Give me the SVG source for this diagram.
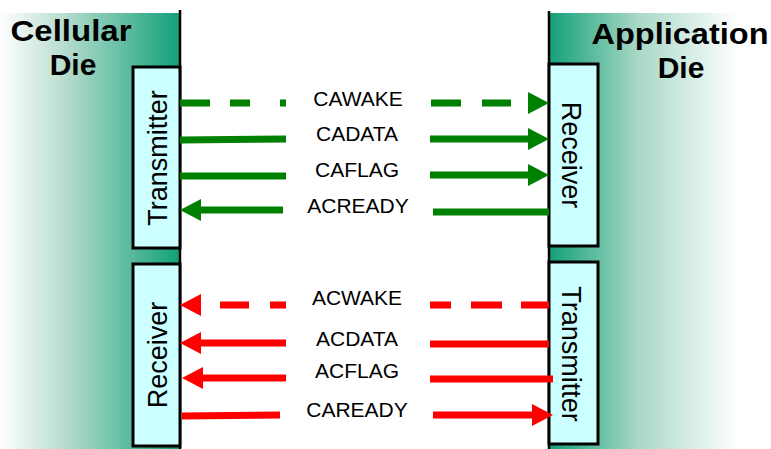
<svg xmlns="http://www.w3.org/2000/svg" width="771" height="449" viewBox="0 0 771 449">
<defs>
<linearGradient id="gl" x1="0" y1="0" x2="1" y2="0">
<stop offset="0" stop-color="#ffffff"/>
<stop offset="0.35" stop-color="#b9ddd0"/>
<stop offset="1" stop-color="#12a078"/>
</linearGradient>
<linearGradient id="gr" x1="0" y1="0" x2="1" y2="0">
<stop offset="0" stop-color="#12a078"/>
<stop offset="0.4" stop-color="#a8d8c6"/>
<stop offset="0.85" stop-color="#ffffff"/>
<stop offset="1" stop-color="#ffffff"/>
</linearGradient>
<marker id="ag" markerUnits="userSpaceOnUse" markerWidth="21" markerHeight="22" refX="0" refY="11" orient="auto" viewBox="0 0 21 22">
<path d="M0,0 L21,11 L0,22 z" fill="#008000"/>
</marker>
<marker id="ar" markerUnits="userSpaceOnUse" markerWidth="21" markerHeight="22" refX="0" refY="11" orient="auto" viewBox="0 0 21 22">
<path d="M0,0 L21,11 L0,22 z" fill="#ff0000"/>
</marker>
</defs>
<style>
.head{font-family:"Liberation Sans",Arial,sans-serif;font-weight:bold;font-size:30px;fill:#000;text-anchor:middle}
.lbl{font-family:"Liberation Sans",Arial,sans-serif;font-size:21px;fill:#000;text-anchor:middle}
.box{fill:#ccffff;stroke:#000;stroke-width:3}
.btxt{font-family:"Liberation Sans",Arial,sans-serif;font-size:27px;fill:#000;text-anchor:middle}
.g{stroke:#008000;stroke-width:7;fill:none}
.r{stroke:#ff0000;stroke-width:7;fill:none}
.edge{stroke:#000;stroke-width:2.5}
</style>
<rect width="771" height="449" fill="#fff"/>
<g id="cellular-die">
<rect x="0" y="13" width="180" height="436" fill="url(#gl)"/>
<line class="edge" x1="180" y1="10" x2="180" y2="449"/>
<text class="head" x="71" y="41" textLength="121" lengthAdjust="spacingAndGlyphs">Cellular</text>
<text class="head" x="73" y="75">Die</text>
</g>
<g id="application-die">
<rect x="549" y="13" width="222" height="436" fill="url(#gr)"/>
<line class="edge" x1="549" y1="11" x2="549" y2="449"/>
<text class="head" x="680" y="44" textLength="177" lengthAdjust="spacingAndGlyphs">Application</text>
<text class="head" x="681" y="78">Die</text>
</g>
<g id="cell-transmitter">
<rect class="box" x="133" y="67" width="47" height="181"/>
<text class="btxt" transform="translate(167,158) rotate(-90)" x="0" y="0">Transmitter</text>
</g>
<g id="cell-receiver">
<rect class="box" x="133" y="264" width="47" height="182"/>
<text class="btxt" transform="translate(167,355) rotate(-90)" x="0" y="0">Receiver</text>
</g>
<g id="app-receiver">
<rect class="box" x="549" y="64" width="49" height="182"/>
<text class="btxt" transform="translate(562,155) rotate(90)" x="0" y="0">Receiver</text>
</g>
<g id="app-transmitter">
<rect class="box" x="549" y="262" width="49" height="182"/>
<text class="btxt" transform="translate(562,354) rotate(90)" x="0" y="0">Transmitter</text>
</g>
<g id="connectors">
<line class="g" x1="180" y1="103" x2="286" y2="103" stroke-dasharray="30 20 20 30 6 100"/>
<line class="g" x1="431" y1="103" x2="528" y2="103" stroke-dasharray="30 21 29 100" marker-end="url(#ag)"/>
<line class="g" x1="180" y1="140" x2="286" y2="139"/>
<line class="g" x1="430" y1="139" x2="528" y2="139" marker-end="url(#ag)"/>
<line class="g" x1="180" y1="176" x2="286" y2="176"/>
<line class="g" x1="430" y1="175" x2="528" y2="175" marker-end="url(#ag)"/>
<line class="g" x1="283" y1="210" x2="201" y2="210" marker-end="url(#ag)"/>
<line class="g" x1="433" y1="212" x2="549" y2="212"/>
<line class="r" x1="286" y1="305" x2="201" y2="305" stroke-dasharray="16 21 29 100" marker-end="url(#ar)"/>
<line class="r" x1="549" y1="305" x2="430" y2="305" stroke-dasharray="28 19 31 20 21 100"/>
<line class="r" x1="286" y1="343" x2="201" y2="343" marker-end="url(#ar)"/>
<line class="r" x1="430" y1="344" x2="549" y2="344"/>
<line class="r" x1="286" y1="378" x2="203" y2="378" marker-end="url(#ar)"/>
<line class="r" x1="430" y1="379" x2="553" y2="379"/>
<line class="r" x1="182" y1="416" x2="280" y2="415"/>
<line class="r" x1="433" y1="415" x2="532" y2="415" marker-end="url(#ar)"/>
</g>
<g id="labels">
<text class="lbl" x="358" y="106">CAWAKE</text>
<text class="lbl" x="357" y="141">CADATA</text>
<text class="lbl" x="357" y="177">CAFLAG</text>
<text class="lbl" x="358" y="213">ACREADY</text>
<text class="lbl" x="357" y="305">ACWAKE</text>
<text class="lbl" x="357" y="346">ACDATA</text>
<text class="lbl" x="357" y="378">ACFLAG</text>
<text class="lbl" x="357" y="417">CAREADY</text>
</g>
</svg>
